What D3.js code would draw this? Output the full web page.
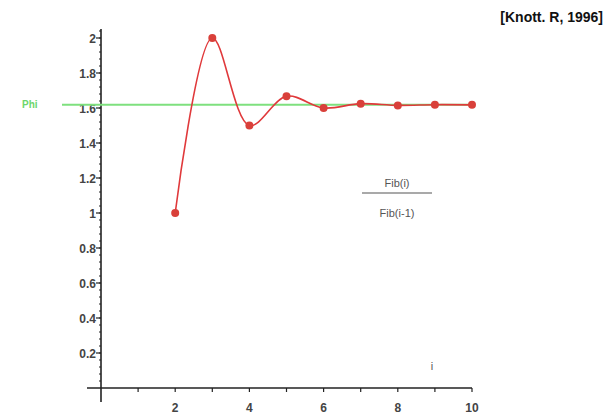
<!DOCTYPE html>
<html lang="en">
<head>
    <meta charset="UTF-8">
    <title>Fib(i)/Fib(i-1)</title>
    <script src="https://d3js.org/d3.v7.min.js"></script>
    <style>
        body { margin: 0; background: #fff; }
        svg text { font-family: "Liberation Sans", Arial, sans-serif; }
    </style>
</head>
<body>
<script>
    var width = 609;
    var height = 416;

    // data: ratio of successive Fibonacci numbers
    var steps = [2, 3, 4, 5, 6, 7, 8, 9, 10];
    var ratios = [1, 2, 1.5, 1.667, 1.6, 1.625, 1.615, 1.619, 1.618];
    var phi = 1.618;
    var xTicks = [2, 4, 6, 8, 10];
    var yTicks = [0.2, 0.4, 0.6, 0.8, 1, 1.2, 1.4, 1.6, 1.8, 2];

    var svg = d3.select("body").append("svg")
        .attr("width", width)
        .attr("height", height);

    var x = d3.scaleLinear().domain([0, 10]).range([101, 472]);
    var y = d3.scaleLinear().domain([0, 2]).range([388, 38]);

    var axisColor = "#222";

    // y axis
    svg.append("line")
        .attr("x1", x(0)).attr("x2", x(0))
        .attr("y1", 29).attr("y2", 402)
        .style("stroke", axisColor).style("stroke-width", 1.6);

    svg.append("g").selectAll("line")
        .data(d3.range(0.04, 2.05, 0.04))
        .enter().append("line")
        .attr("x1", x(0) - 2).attr("x2", x(0))
        .attr("y1", function(d) { return y(d); })
        .attr("y2", function(d) { return y(d); })
        .style("stroke", axisColor).style("stroke-width", 1);

    var yg = svg.append("g").selectAll("g")
        .data(yTicks)
        .enter().append("g")
        .attr("transform", function(d) { return "translate(0," + y(d) + ")"; });
    yg.append("line")
        .attr("x1", x(0) - 5).attr("x2", x(0))
        .style("stroke", axisColor).style("stroke-width", 1.2);
    yg.append("text")
        .attr("x", x(0) - 5)
        .attr("dy", "0.38em")
        .attr("text-anchor", "end")
        .style("font-size", "12px")
        .style("font-weight", "bold")
        .style("fill", "#444")
        .text(function(d) { return d; });

    // x axis
    svg.append("line")
        .attr("x1", 87).attr("x2", x(10))
        .attr("y1", y(0)).attr("y2", y(0))
        .style("stroke", axisColor).style("stroke-width", 1.6);

    svg.append("g").selectAll("line")
        .data(d3.range(1, 11))
        .enter().append("line")
        .attr("x1", function(d) { return x(d); })
        .attr("x2", function(d) { return x(d); })
        .attr("y1", y(0)).attr("y2", y(0) + 4)
        .style("stroke", axisColor).style("stroke-width", 1.2);

    svg.append("g").selectAll("text")
        .data(xTicks)
        .enter().append("text")
        .attr("x", function(d) { return x(d); })
        .attr("y", y(0) + 24)
        .attr("text-anchor", "middle")
        .style("font-size", "12px")
        .style("font-weight", "bold")
        .style("fill", "#444")
        .text(function(d) { return d; });

    // phi line
    svg.append("line")
        .attr("x1", 62).attr("x2", x(10))
        .attr("y1", y(phi)).attr("y2", y(phi))
        .style("stroke", "#7ee07e").style("stroke-width", 2);
    svg.append("text")
        .attr("x", 22).attr("y", y(phi))
        .attr("dy", "0.35em")
        .style("font-size", "10px")
        .style("font-weight", "bold")
        .style("fill", "#6cd66c")
        .text("Phi");

    // ratio curve
    var points = steps.map(function(s, i) { return [s, ratios[i]]; });
    var line = d3.line()
        .curve(d3.curveCatmullRom.alpha(0.5))
        .x(function(d) { return x(d[0]); })
        .y(function(d) { return y(d[1]); });

    svg.append("path")
        .datum(points)
        .attr("d", line)
        .style("fill", "none")
        .style("stroke", "#e0393b")
        .style("stroke-width", 1.6);

    svg.append("g").selectAll("circle")
        .data(points)
        .enter().append("circle")
        .attr("cx", function(d) { return x(d[0]); })
        .attr("cy", function(d) { return y(d[1]); })
        .attr("r", 4)
        .style("fill", "#d9403a");

    // fraction label
    var fx = 397;
    svg.append("text")
        .attr("x", fx).attr("y", 187)
        .attr("text-anchor", "middle")
        .style("font-size", "11px")
        .style("fill", "#555")
        .text("Fib(i)");
    svg.append("line")
        .attr("x1", fx - 35).attr("x2", fx + 35)
        .attr("y1", 193).attr("y2", 193)
        .style("stroke", "#555").style("stroke-width", 1.2);
    svg.append("text")
        .attr("x", fx).attr("y", 217)
        .attr("text-anchor", "middle")
        .style("font-size", "11px")
        .style("fill", "#555")
        .text("Fib(i-1)");

    svg.append("text")
        .attr("x", 432).attr("y", 370)
        .attr("text-anchor", "middle")
        .style("font-size", "11px")
        .style("fill", "#555")
        .text("i");

    // source note
    svg.append("text")
        .attr("x", 603).attr("y", 22)
        .attr("text-anchor", "end")
        .style("font-size", "14px")
        .style("font-weight", "bold")
        .style("fill", "#111")
        .text("[Knott. R, 1996]");
</script>
</body>
</html>
